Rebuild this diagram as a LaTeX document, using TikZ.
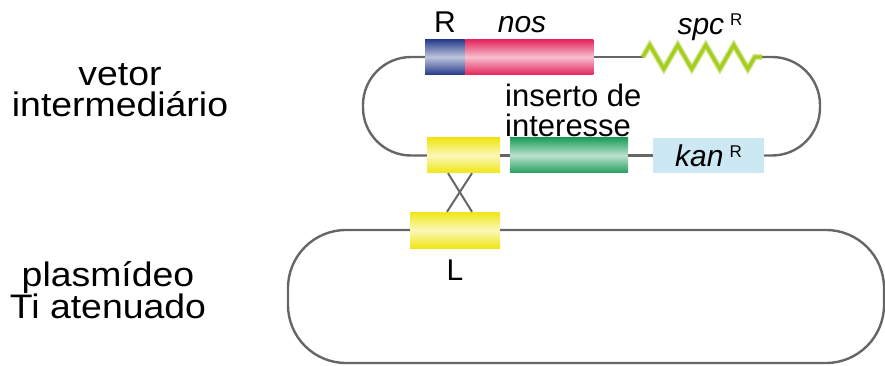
\documentclass[tikz,border=0pt]{standalone}
\usepackage{fontspec}
\setmainfont{Liberation Sans}
\newfontfamily\largafont[FakeStretch=1.1]{Liberation Sans}
\usetikzlibrary{decorations.pathmorphing}
\definecolor{AzulR}{RGB}{38,60,140}
\definecolor{RosaNos}{RGB}{228,38,92}
\definecolor{AmareloL}{RGB}{240,230,22}
\definecolor{VerdeIns}{RGB}{32,158,92}
\definecolor{AzulKan}{RGB}{204,232,242}
\definecolor{VerdeSpc}{RGB}{165,206,32}
\definecolor{CinzaFio}{RGB}{102,102,102}
\newcommand\supR{\raisebox{9pt}{\fontsize{17}{17}\selectfont R}}

\begin{document}
\begin{tikzpicture}[x=1pt,y=-1pt]
  \tikzset{
    fio/.style={draw=CinzaFio,line width=2.4pt},
    gene/.style={minimum height=35pt,inner sep=0pt,top color=#1,bottom color=#1,middle color=#1!30!white},
    rotulo/.style={font=\fontsize{30}{30}\selectfont,anchor=base,inner sep=0pt},
    titulo/.style={font=\largafont\fontsize{34}{31}\selectfont,align=center,anchor=north,inner sep=0pt}
  }
  \useasboundingbox (0,0) rectangle (885,366);

  % vetor intermediario: genes de cima
  \node[gene=AzulR,minimum width=40pt] (R) at (445,57) {};
  \node[gene=RosaNos,minimum width=128pt,anchor=west] (nos) at (R.east) {};
  \node[minimum width=119pt,minimum height=30pt,inner sep=0pt] (spc) at (702.5,57) {};
  % genes de baixo
  \node[gene=AmareloL,minimum width=73pt] (homA) at (463.5,155.5) {};
  \node[gene=VerdeIns,minimum width=118pt] (ins) at (569,155.5) {};
  \node[fill=AzulKan,minimum width=111pt,minimum height=35pt,inner sep=0pt,
        font=\fontsize{30}{30}\selectfont] (kan) at (708.5,155.5) {\textit{kan}\hspace{6pt}\supR};
  % plasmideo Ti
  \node[gene=AmareloL,minimum width=90pt,minimum height=36pt] (homB) at (455,230) {};

  % fios
  \draw[fio] (nos.east) -- (spc.west);
  \draw[fio] (homA.east) -- (ins.west);
  \draw[fio] (ins.east) -- (kan.west);
  \draw[fio,rounded corners=48pt] (R.west) -- (363,57) -- (363,155.5) -- (homA.west);
  \draw[fio,rounded corners=48pt] (spc.east) -- (820,57) -- (820,155.5) -- (kan.east);
  \draw[fio,rounded corners=58pt] (homB.west) -- (288,230) -- (288,363) -- (884,363) -- (884,230) -- (homB.east);

  % spc em zigue-zague
  \draw[VerdeSpc!45!white,line width=6pt,decorate,decoration={zigzag,segment length=28pt,amplitude=12pt}] (spc.west) -- (spc.east);
  \draw[VerdeSpc,line width=3.4pt,decorate,decoration={zigzag,segment length=28pt,amplitude=12pt}] (spc.west) -- (spc.east);

  % recombinacao
  \draw[fio,line width=2pt] ([xshift=-15.5pt]homA.south) -- ([xshift=17pt]homB.north);
  \draw[fio,line width=2pt] ([xshift=8.5pt]homA.south) -- ([xshift=-8pt]homB.north);

  % rotulos
  \node[rotulo] (lblR) at (445,33) {R};
  \node[rotulo] (lblNos) at (522,33) {\textit{nos}};
  \node[rotulo] (lblSpc) at (710,35) {\textit{spc}\hspace{6pt}\supR};
  \node[rotulo] (lblL) at (455,280) {L};
  \node[font=\fontsize{31}{30}\selectfont,align=left,anchor=north west,inner sep=0pt] (lblIns) at (505,84) {inserto de\\interesse};
  \node[titulo] (lblVetor) at (120,63) {vetor\\intermediário};
  \node[titulo] (lblTi) at (108,261) {plasmídeo\\Ti atenuado};
\end{tikzpicture}
\end{document}
